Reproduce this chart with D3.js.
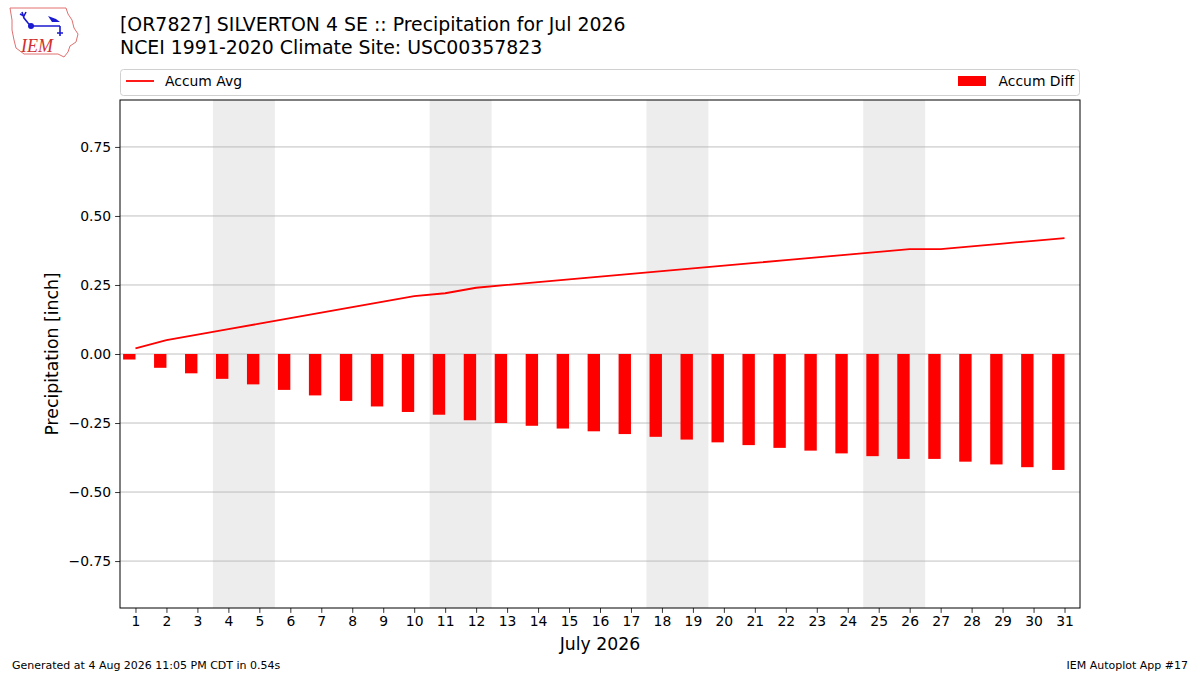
<!DOCTYPE html>
<html>
<head>
<meta charset="utf-8">
<script src="https://cdn.jsdelivr.net/npm/d3@7"></script>
<style>
  body { margin: 0; background: #fff; }
  text { font-family: "DejaVu Sans", sans-serif; }
</style>
</head>
<body>
<div id="chart"></div>
<script>
// days of July 2026
var days = d3.range(1, 32);
// accumulated climatology (inch)
var accumAvg = [0.02, 0.05, 0.07, 0.09, 0.11, 0.13, 0.15, 0.17, 0.19, 0.21,
  0.22, 0.24, 0.25, 0.26, 0.27, 0.28, 0.29, 0.30, 0.31, 0.32,
  0.33, 0.34, 0.35, 0.36, 0.37, 0.38, 0.38, 0.39, 0.40, 0.41, 0.42];
// observed accum minus average
var accumDiff = [-0.02, -0.05, -0.07, -0.09, -0.11, -0.13, -0.15, -0.17, -0.19, -0.21,
  -0.22, -0.24, -0.25, -0.26, -0.27, -0.28, -0.29, -0.30, -0.31, -0.32,
  -0.33, -0.34, -0.35, -0.36, -0.37, -0.38, -0.38, -0.39, -0.40, -0.41, -0.42];
var weekends = [[4, 5], [11, 12], [18, 19], [25, 26]];
var yTicks = [-0.75, -0.5, -0.25, 0, 0.25, 0.5, 0.75];

var W = 1200, H = 675;
var m = {left: 120, right: 1080, top: 100, bottom: 608};

var svg = d3.select("#chart").append("svg")
  .attr("width", W).attr("height", H);

var x = d3.scaleLinear().domain([0.5, 31.5]).range([m.left, m.right]);
var y = d3.scaleLinear().domain([-0.92, 0.92]).range([m.bottom, m.top]);

// weekend shading
svg.selectAll("rect.wk").data(weekends).enter().append("rect")
  .attr("class", "wk")
  .attr("x", function(d){ return x(d[0] - 0.5); })
  .attr("width", function(d){ return x(d[1] + 0.5) - x(d[0] - 0.5); })
  .attr("y", m.top).attr("height", m.bottom - m.top)
  .attr("fill", "#ededed");

// horizontal grid
svg.selectAll("line.grid").data(yTicks).enter().append("line")
  .attr("class", "grid")
  .attr("x1", m.left).attr("x2", m.right)
  .attr("y1", function(d){ return y(d); }).attr("y2", function(d){ return y(d); })
  .attr("stroke", "#b0b0b0").attr("stroke-width", 0.8);

// bars, right edge on the day
svg.selectAll("rect.bar").data(days).enter().append("rect")
  .attr("class", "bar")
  .attr("x", function(d){ return x(d - 0.4); })
  .attr("width", x(1.4) - x(1))
  .attr("y", function(d, i){ return y(Math.max(0, accumDiff[i])); })
  .attr("height", function(d, i){ return Math.abs(y(accumDiff[i]) - y(0)); })
  .attr("fill", "#ff0000");

// average line
var line = d3.line()
  .x(function(d, i){ return x(days[i]); })
  .y(function(d){ return y(d); });
svg.append("path").datum(accumAvg)
  .attr("d", line)
  .attr("fill", "none").attr("stroke", "#ff0000").attr("stroke-width", 1.8);

// axes
var xAxis = svg.append("g")
  .attr("transform", "translate(0," + m.bottom + ")")
  .call(d3.axisBottom(x).tickValues(days).tickFormat(d3.format("d")).tickSizeOuter(0).tickSize(4.9).tickPadding(3));
var yAxis = svg.append("g")
  .attr("transform", "translate(" + m.left + ",0)")
  .call(d3.axisLeft(y).tickValues(yTicks).tickSizeOuter(0).tickSize(4.9).tickPadding(4)
    .tickFormat(function(d){ return d3.format(".2f")(d).replace("-", "\u2212"); }));
[xAxis, yAxis].forEach(function(g){
  g.attr("font-family", null).attr("font-size", null);
  g.select(".domain").remove();
  g.selectAll("text").attr("font-size", 13.9).attr("fill", "#000")
    .style("font-family", "DejaVu Sans");
  g.selectAll("line").attr("stroke", "#000").attr("stroke-width", 0.8);
});

// frame
svg.append("rect")
  .attr("x", m.left).attr("y", m.top)
  .attr("width", m.right - m.left).attr("height", m.bottom - m.top)
  .attr("fill", "none").attr("stroke", "#000").attr("stroke-width", 1);

// axis labels
svg.append("text").attr("x", (m.left + m.right) / 2).attr("y", 650)
  .attr("text-anchor", "middle").attr("font-size", 17.3).text("July 2026");
svg.append("text")
  .attr("transform", "translate(58," + ((m.top + m.bottom) / 2) + ") rotate(-90)")
  .attr("text-anchor", "middle").attr("font-size", 17.3).text("Precipitation [inch]");

// titles
svg.append("text").attr("x", 120).attr("y", 31).attr("font-size", 18.9)
  .text("[OR7827] SILVERTON 4 SE :: Precipitation for Jul 2026");
svg.append("text").attr("x", 120).attr("y", 54).attr("font-size", 18.9)
  .text("NCEI 1991-2020 Climate Site: USC00357823");

// legend
svg.append("rect").attr("x", 120.5).attr("y", 69.5).attr("width", 959).attr("height", 26)
  .attr("rx", 3).attr("fill", "#fff").attr("stroke", "#d0d0d0");
svg.append("line").attr("x1", 126).attr("x2", 154).attr("y1", 81).attr("y2", 81)
  .attr("stroke", "#ff0000").attr("stroke-width", 1.8);
svg.append("text").attr("x", 165).attr("y", 86).attr("font-size", 13.9).text("Accum Avg");
svg.append("rect").attr("x", 958).attr("y", 76).attr("width", 28).attr("height", 10)
  .attr("fill", "#ff0000");
svg.append("text").attr("x", 1074).attr("y", 86).attr("font-size", 13.9)
  .attr("text-anchor", "end").text("Accum Diff");

// footer
svg.append("text").attr("x", 12).attr("y", 669).attr("font-size", 11)
  .text("Generated at 4 Aug 2026 11:05 PM CDT in 0.54s");
svg.append("text").attr("x", 1188).attr("y", 669).attr("font-size", 11)
  .attr("text-anchor", "end").text("IEM Autoplot App #17");

// IEM logo (rough)
var logo = svg.append("g");
logo.append("path")
  .attr("d", "M10,8 L66,8 L68,14 L72,20 L74,28 L78,34 L76,42 L70,46 L68,52 L64,57 L58,54 L24,54 L16,48 L14,40 L12,30 L12,20 Z")
  .attr("fill", "#fff").attr("stroke", "#e07070").attr("stroke-width", 1);
logo.append("path")
  .attr("d", "M31,26 L60,26 M60,26 L60,36 M57,33 L63,33 M22,12 L24,18 L28,23 L31,26 M20,14 L24,16 L26,12")
  .attr("fill", "none").attr("stroke", "#1a1ad0").attr("stroke-width", 1.6);
logo.append("path")
  .attr("d", "M48,16 L56,19 L60,22 L52,22 Z")
  .attr("fill", "#1a1ad0");
logo.append("circle").attr("cx", 31).attr("cy", 26).attr("r", 3).attr("fill", "#1a1ad0");
logo.append("text").attr("x", 21).attr("y", 52).attr("font-size", 18)
  .attr("font-style", "italic").attr("fill", "#d03030")
  .style("font-family", "Liberation Serif, serif").text("IEM");
</script>
</body>
</html>
